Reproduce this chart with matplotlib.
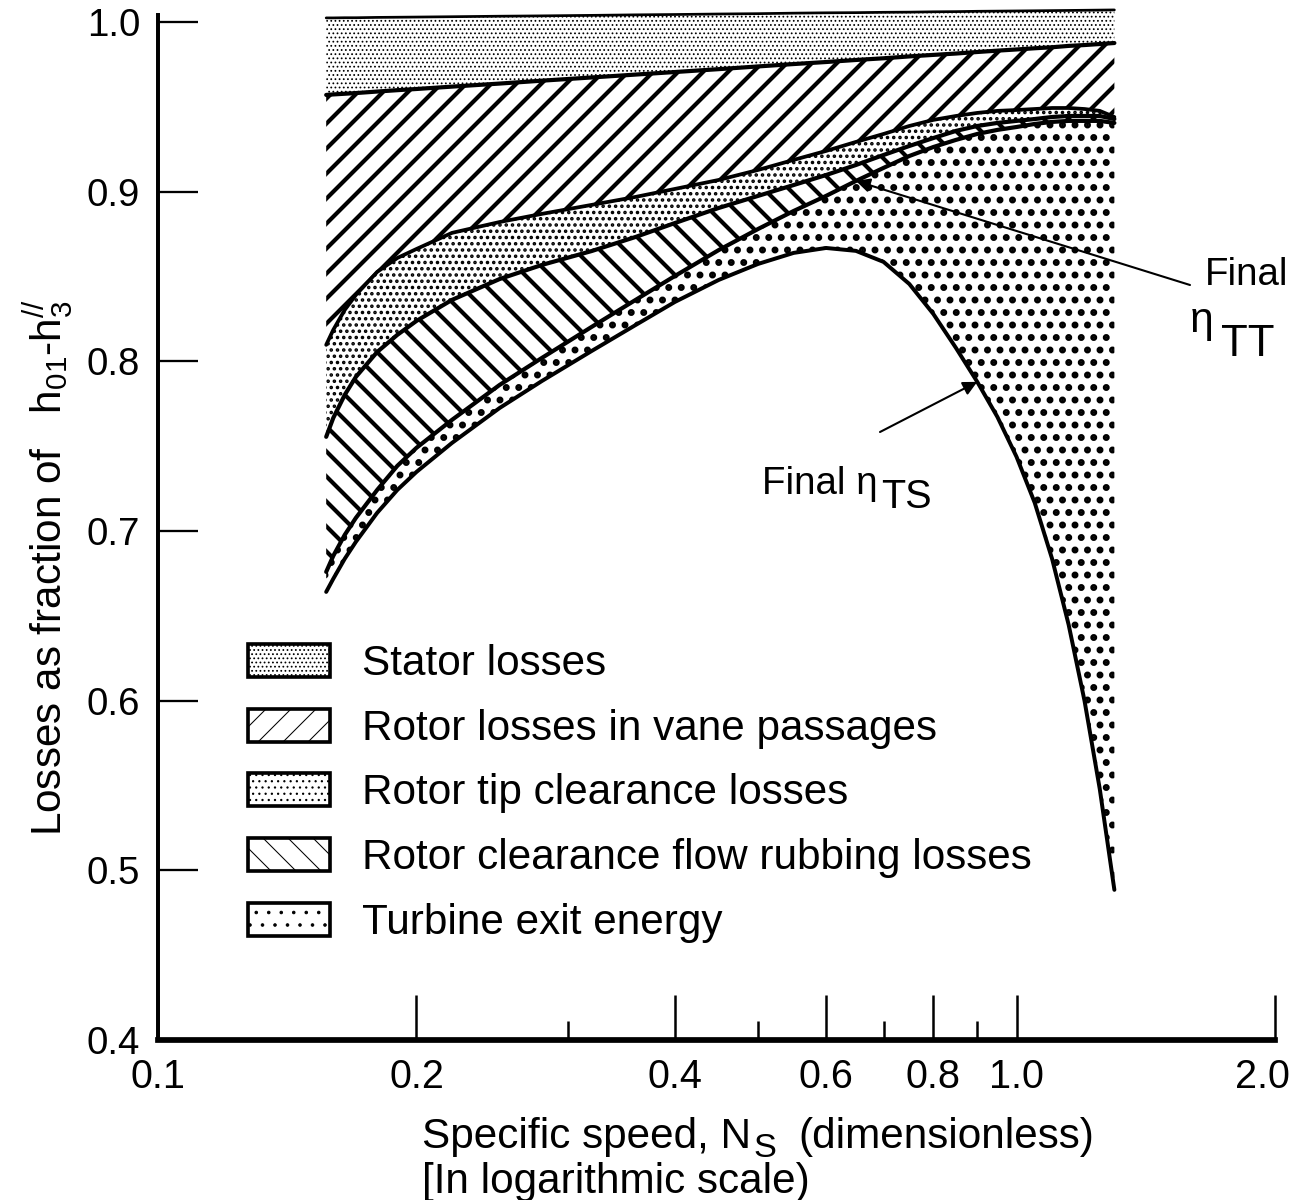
import numpy as np
import matplotlib
matplotlib.use('Agg')
import matplotlib.pyplot as plt
from matplotlib.patches import Patch
from matplotlib.transforms import ScaledTranslation
from matplotlib.ticker import FixedLocator, FixedFormatter, NullFormatter, NullLocator

plt.rcParams['font.family'] = ['Liberation Sans', 'DejaVu Sans']
plt.rcParams['mathtext.fontset'] = 'custom'
plt.rcParams['mathtext.rm'] = 'Liberation Sans'
plt.rcParams['mathtext.it'] = 'Liberation Sans:italic'
plt.rcParams['mathtext.bf'] = 'Liberation Sans:bold'

# ---------------- data ----------------
ns = [0.157, 0.16, 0.165, 0.17, 0.18, 0.19, 0.2, 0.22, 0.25, 0.28, 0.32, 0.36,
      0.4, 0.45, 0.5, 0.55, 0.6, 0.65, 0.7, 0.75, 0.8, 0.85, 0.9, 0.95, 1.0,
      1.05, 1.1, 1.15, 1.2, 1.25, 1.3]

top_line = [1.0024, 1.0024, 1.0025, 1.0025, 1.0027, 1.0028, 1.0029, 1.0031, 1.0034,
            1.0036, 1.0039, 1.0042, 1.0044, 1.0047, 1.0049, 1.0052, 1.0054, 1.0055,
            1.0057, 1.0058, 1.0060, 1.0061, 1.0063, 1.0064, 1.0065, 1.0066, 1.0067,
            1.0068, 1.0069, 1.0070, 1.0071]

stator_edge = [0.9570, 0.9573, 0.9577, 0.9581, 0.9590, 0.9598, 0.9605, 0.9619, 0.9637,
               0.9654, 0.9673, 0.9690, 0.9705, 0.9722, 0.9738, 0.9752, 0.9764, 0.9776,
               0.9786, 0.9797, 0.9806, 0.9814, 0.9823, 0.9831, 0.9838, 0.9845, 0.9851,
               0.9859, 0.9864, 0.9870, 0.9876]

vane_edge = [0.8097, 0.8185, 0.8303, 0.8391, 0.8527, 0.8609, 0.8662, 0.8757, 0.8821,
             0.8869, 0.8922, 0.8969, 0.9016, 0.9069, 0.9128, 0.9187, 0.9240, 0.9293,
             0.9340, 0.9387, 0.9423, 0.9446, 0.9464, 0.9476, 0.9481, 0.9487, 0.9493,
             0.9493, 0.9487, 0.9476, 0.9440]

tip_edge = [0.7555, 0.7666, 0.7802, 0.7908, 0.8055, 0.8156, 0.8238, 0.8362, 0.8485,
            0.8568, 0.8650, 0.8733, 0.8815, 0.8904, 0.8975, 0.9039, 0.9098, 0.9157,
            0.9216, 0.9269, 0.9316, 0.9358, 0.9387, 0.9405, 0.9417, 0.9428, 0.9440,
            0.9446, 0.9446, 0.9446, 0.9428]

eta_tt = [0.6759, 0.6853, 0.6977, 0.7077, 0.7242, 0.7384, 0.7490, 0.7655, 0.7861,
          0.8020, 0.8203, 0.8362, 0.8503, 0.8656, 0.8780, 0.8886, 0.8975, 0.9063,
          0.9140, 0.9210, 0.9263, 0.9305, 0.9340, 0.9364, 0.9381, 0.9399, 0.9411,
          0.9417, 0.9417, 0.9417, 0.9405]

eta_ts = [0.6641, 0.6718, 0.6836, 0.6936, 0.7107, 0.7242, 0.7348, 0.7519, 0.7725,
          0.7884, 0.8061, 0.8214, 0.8350, 0.8480, 0.8574, 0.8639, 0.8668, 0.8651,
          0.8586, 0.8456, 0.8279, 0.8079, 0.7879, 0.7672, 0.7437, 0.7166, 0.6836,
          0.6447, 0.5999, 0.5480, 0.4885]

legend_labels = ['Stator losses',
                 'Rotor losses in vane passages',
                 'Rotor tip clearance losses',
                 'Rotor clearance flow rubbing losses',
                 'Turbine exit energy']

xtick_vals = [0.1, 0.2, 0.4, 0.6, 0.8, 1.0, 2.0]
xtick_labels = ['0.1', '0.2', '0.4', '0.6', '0.8', '1.0', '2.0']
xminor_vals = [0.3, 0.5, 0.7, 0.9]
ytick_vals = [0.4, 0.5, 0.6, 0.7, 0.8, 0.9, 1.0]
ytick_labels = ['0.4', '0.5', '0.6', '0.7', '0.8', '0.9', '1.0']

# ---------------- figure ----------------
DPI = 75
W, H = 1295, 1200
fig = plt.figure(figsize=(W / DPI, H / DPI), dpi=DPI)
fig.patch.set_facecolor('white')
ax = fig.add_axes([158 / W, 1 - 1040 / H, (1275 - 158) / W, (1040 - 8.4) / H])
ax.set_xscale('log')
ax.set_xlim(0.1, 2.0)
ax.set_ylim(0.4, 1.008)

# styles for the five loss bands: (hatch, hatch lw in plot, hatch lw in legend)
band_styles = [('...', 1.0, 1.0), ('/', 4.0, 2.2), ('..', 2.2, 2.0),
               ('\\', 4.0, 2.2), ('.', 4.2, 3.5)]
bounds = [(stator_edge, top_line), (vane_edge, stator_edge), (tip_edge, vane_edge),
          (eta_tt, tip_edge), (eta_ts, eta_tt)]

for (lo, hi), (hatch, hlw, _) in zip(bounds, band_styles):
    with plt.rc_context({'hatch.linewidth': hlw}):
        coll = ax.fill_between(ns, lo, hi, facecolor='white', edgecolor='black',
                               linewidth=0, hatch=hatch, zorder=1)
    if hasattr(coll, 'set_hatch_linewidth'):
        coll.set_hatch_linewidth(hlw)

line_kw = dict(color='black', zorder=3, solid_joinstyle='round', solid_capstyle='round')
ax.plot(ns, top_line, lw=2.6, clip_on=False, **line_kw)
ax.plot(ns, stator_edge, lw=4.0, **line_kw)
ax.plot(ns, vane_edge, lw=3.6, **line_kw)
ax.plot(ns, tip_edge, lw=4.0, **line_kw)
ax.plot(ns, eta_tt, lw=4.0, **line_kw)
ax.plot(ns, eta_ts, lw=3.8, **line_kw)

# ---------------- axes styling ----------------
for s in ['top', 'right']:
    ax.spines[s].set_visible(False)
ax.spines['left'].set_linewidth(3.8)
ax.spines['left'].set_bounds(0.4, 1.004)
ax.spines['bottom'].set_linewidth(5.5)

ax.xaxis.set_major_locator(FixedLocator(xtick_vals))
ax.xaxis.set_major_formatter(FixedFormatter(xtick_labels))
ax.xaxis.set_minor_locator(FixedLocator(xminor_vals))
ax.xaxis.set_minor_formatter(NullFormatter())
ax.yaxis.set_major_locator(FixedLocator(ytick_vals))
ax.yaxis.set_major_formatter(FixedFormatter(ytick_labels))
ax.yaxis.set_minor_locator(NullLocator())

ax.tick_params(axis='x', which='major', direction='in', length=43, width=2.4,
               labelsize=38, pad=17)
ax.tick_params(axis='x', which='minor', direction='in', length=18, width=2.4)
ax.tick_params(axis='y', which='major', direction='in', length=38, width=2.2,
               labelsize=37, pad=17)

# ---------------- legend ----------------
handles = []
for hatch, _, llw in band_styles:
    with plt.rc_context({'hatch.linewidth': llw}):
        p = Patch(facecolor='white', edgecolor='black', linewidth=3.5, hatch=hatch)
    if hasattr(p, 'set_hatch_linewidth'):
        p.set_hatch_linewidth(llw)
    handles.append(p)
leg = ax.legend(handles, legend_labels, loc='upper left',
                bbox_to_anchor=(248 / W, 1 - 644 / H), bbox_transform=fig.transFigure,
                frameon=False, fontsize=40.5, handlelength=1.95, handleheight=0.83,
                handletextpad=0.76, labelspacing=0.58, borderpad=0, borderaxespad=0)

# ---------------- labels & annotations ----------------
renderer = fig.canvas.get_renderer()


def text_then_sub(x_px, base_px, main, sub, size, sub_size, drop_px, gap_px=1):
    t = fig.text(x_px / W, 1 - base_px / H, main, fontsize=size,
                 ha='left', va='baseline')
    x1 = t.get_window_extent(renderer).x1
    s = fig.text((x1 + gap_px) / W, 1 - (base_px + drop_px) / H, sub,
                 fontsize=sub_size, ha='left', va='baseline')
    return s


fig.text(48 / W, 1 - 567 / H,
         'Losses as fraction of   $\\mathregular{h_{01}}$-$\\mathregular{h_{3}^{//}}$',
         rotation=90, fontsize=40.5, ha='center', va='center')

sub = text_then_sub(422, 1148, 'Specific speed, N', 'S', 40.5, 33, 9, 2)
xs1 = sub.get_window_extent(renderer).x1
fig.text((xs1 + 22) / W, 1 - 1148 / H, '(dimensionless)', fontsize=40.5,
         ha='left', va='baseline')
fig.text(422 / W, 1 - 1193 / H, '[In logarithmic scale)',
         fontsize=40.5, ha='left', va='baseline')

i_ts = ns.index(0.9)
ax.annotate('', xy=(ns[i_ts], eta_ts[i_ts]), xytext=(880, H - 432),
            textcoords='figure pixels',
            arrowprops=dict(arrowstyle='-|>', color='black', lw=2,
                            mutation_scale=28, shrinkA=0, shrinkB=0))
text_then_sub(762, 494, 'Final η', 'TS', 37, 38, 14, 4)

i_tt = ns.index(0.65)
ax.annotate('', xy=(ns[i_tt], eta_tt[i_tt]), xytext=(1190, H - 285),
            textcoords='figure pixels',
            arrowprops=dict(arrowstyle='-|>', color='black', lw=2,
                            mutation_scale=28, shrinkA=0, shrinkB=0))
fig.text(1205 / W, 1 - 285 / H, 'Final', fontsize=37, ha='left', va='baseline')
text_then_sub(1190, 332, 'η', 'TT', 41, 42, 24, 7)

# keep the last x tick label inside the picture, as in the reference
fig.canvas.draw()
last = ax.get_xticklabels()[-1]
last.set_transform(last.get_transform() + ScaledTranslation(-12 / 72, 0, fig.dpi_scale_trans))

fig.savefig('out.png', dpi=DPI, facecolor='white')
